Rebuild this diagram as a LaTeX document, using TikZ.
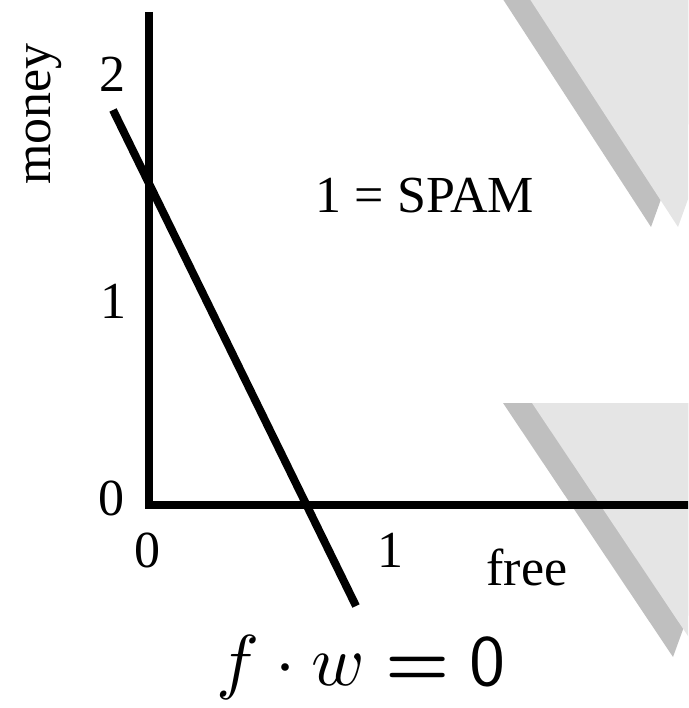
\documentclass[tikz,border=0pt]{standalone}
\usepackage{fix-cm}
\usepackage{fontspec}
\setmainfont{Liberation Serif}
\begin{document}
\begin{tikzpicture}[x=1pt,y=-1pt,
  lbl/.style={inner sep=0pt, font=\fontsize{52}{60}\selectfont},
  axisline/.style={line width=7.5pt, line join=miter, line cap=butt},
  shadowfill/.style={fill=black!25, draw=none},
  lightfill/.style={fill=black!10, draw=none}]
\useasboundingbox (0,0) rectangle (688,708);
\begin{scope}
\clip (0,0) rectangle (688,708);
% upper shadowed triangle
\fill[shadowfill] (651,227) -- ++(-0.65*260,-260) -- ++(0.65*260+0.36*260,0) -- cycle;
\fill[lightfill] (678,227) -- ++(-0.65*260,-260) -- ++(0.65*260+0.36*260,0) -- cycle;
% lower shadowed triangle
\fill[shadowfill] (673,657) -- (503,403) -- (765,403) -- cycle;
\fill[lightfill] (702,657) -- (532,403) -- (794,403) -- cycle;
% axes
\coordinate (ytop) at (149,12);
\coordinate (origin) at (149,505);
\coordinate (xend) at (700,505);
\draw[axisline] (ytop) -- (origin) -- (xend);
% separating line
\coordinate (la) at (113,110);
\coordinate (lb) at (356,606);
\draw[line width=8pt] (la) -- (lb);
\end{scope}
% labels
\node[lbl, rotate=90, anchor=base] (money) at (50,114) {money};
\node[lbl, anchor=base] (y2) at (112,92) {2};
\node[lbl, anchor=base] (y1) at (113,318) {1};
\node[lbl, anchor=base] (y0) at (111,515) {0};
\node[lbl, anchor=base] (x0) at (147,567) {0};
\node[lbl, anchor=base] (x1) at (390,567) {1};
\node[lbl, anchor=base] (free) at (527,585) {free};
\node[lbl, anchor=base] (spam) at (425,213) {1 = SPAM};
\node[inner sep=0pt, anchor=base] (eq) at (361,685) {\scalebox{7.2}{$f\cdot w \mathrel{\mbox{\boldmath$=$}} \mathsf{0}$}};
\end{tikzpicture}
\end{document}
